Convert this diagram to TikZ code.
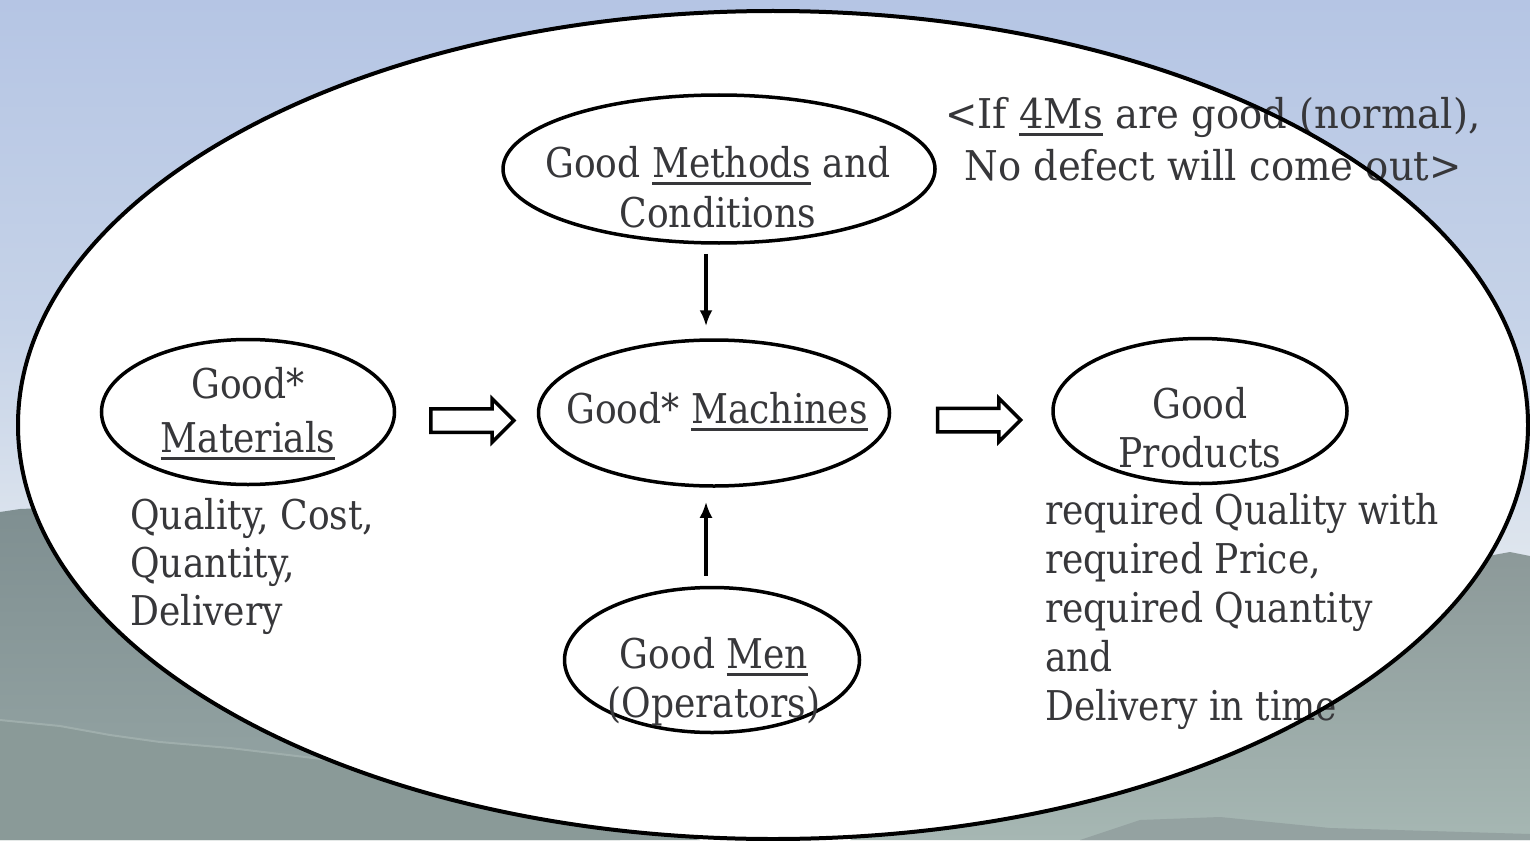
\documentclass[tikz,border=0pt]{standalone}
\usepackage{fontspec}
\setmainfont[FakeStretch=0.88]{DejaVu Serif}
\usetikzlibrary{shapes.geometric,shapes.arrows,arrows.meta,calc}

\definecolor{ink}{HTML}{37373A}
\definecolor{skyTop}{HTML}{B5C5E4}
\definecolor{skyMid}{HTML}{C6D3E8}
\definecolor{skyLow}{HTML}{E3E9EF}
\definecolor{hillBackTop}{HTML}{7F8F91}
\definecolor{hillBackLow}{HTML}{97A7A6}
\definecolor{hillFront}{HTML}{8A9A98}
\definecolor{hillRim}{HTML}{9FAEAC}
\definecolor{hillRightTop}{HTML}{8C9999}
\definecolor{hillRightLow}{HTML}{A6B7B3}

\newcommand\bodyfont{\fontsize{41}{49}\selectfont}
% thick underline used for the key words
\newcommand\undl[1]{\setbox0\hbox{#1}\rlap{\rule[-8pt]{\wd0}{2.6pt}}\box0{}}

\begin{document}
\begin{tikzpicture}[x=1pt,y=-1pt,
  txt/.style={text=ink, font=\bodyfont, inner sep=0pt},
  oval/.style={ellipse, draw=black, line width=3.5pt, inner sep=0pt},
  vconn/.style={-{Latex[length=16pt,width=13pt]}, line width=3.5pt},
  blockarr/.style={single arrow, draw=black, fill=white, line width=3.5pt,
    inner xsep=0pt, inner ysep=10pt, text height=0pt, text depth=0pt,
    single arrow head extend=10pt, single arrow tip angle=90,
    minimum height=83pt},
  frame/.style={draw=black, line width=4pt}]
\useasboundingbox (0,0) rectangle (1530,840);

% sky
\shade[top color=skyTop, bottom color=skyMid] (0,0) rectangle (1530,330);
\shade[top color=skyMid, bottom color=skyLow] (0,329) rectangle (1530,600);

% hills behind the frame
\shade[top color=hillBackTop, bottom color=hillBackLow]
  (0,512) -- (20,509) -- (45,508) -- (200,560) -- (520,700) -- (620,840) -- (0,840) -- cycle;
\fill[hillFront]
  (0,720) -- (60,726) -- (110,735) -- (160,742) -- (230,748) -- (330,760)
  -- (480,782) -- (700,840) -- (0,840) -- cycle;
\draw[hillRim, line width=2pt]
  (0,720) -- (60,726) -- (110,735) -- (160,742) -- (230,748) -- (330,760) -- (480,782);
\shade[top color=hillRightTop, bottom color=hillRightLow]
  (1530,556) -- (1510,552) -- (1488,556) -- (1300,640) -- (850,840) -- (1530,840) -- cycle;
\fill[hillRightTop!70!hillRightLow]
  (1080,840) -- (1140,820) -- (1220,817) -- (1330,828) -- (1530,834) -- (1530,840) -- cycle;

% white field of the frame
\fill[white] (773,425) ellipse [x radius=755pt, y radius=414pt];

% the five ovals
\node[oval, minimum width=432pt, minimum height=148pt] (meth) at (719,169) {};
\node[oval, minimum width=293pt, minimum height=145pt] (mat)  at (248,412) {};
\node[oval, minimum width=351pt, minimum height=146pt] (mac)  at (714,413) {};
\node[oval, minimum width=294pt, minimum height=145pt] (prod) at (1200,411) {};
\node[oval, minimum width=295pt, minimum height=145pt] (men)  at (712,660) {};

% oval texts (base anchor sits on the last line)
\node[txt, align=center, anchor=base] (methT) at (718,227)
  {Good \undl{Methods} and\\[1pt]Conditions};
\node[txt, align=center, anchor=base] (matT) at (248,452)
  {Good*\\[5pt]\undl{Materials}};
\node[txt, anchor=base] (macT) at (717,423) {Good* \undl{Machines}};
\node[txt, align=center, anchor=base] (prodT) at (1200,467)
  {Good\\Products};
\node[txt, align=center, anchor=base] (menT) at (714,717)
  {Good \undl{Men}\\(Operators)};

% side notes
\node[txt, align=left, anchor=base west] (matN) at (130,625)
  {Quality, Cost,\\[-1pt]Quantity,\\[-1pt]Delivery};
\node[txt, align=left, anchor=base west] (prodN) at (1045,720)
  {required Quality with\\required Price,\\required Quantity\\and\\Delivery in time};
\node[txt, align=center, anchor=base,
      font=\bodyfont\addfontfeatures{FakeStretch=0.94}] (rule) at (1213,180)
  {<If \undl{4Ms} are good (normal),\\[3pt]No defect will come out>};

% connectors
\draw[vconn] ($(meth.south)+(-13,9)$) -- ($(mac.north)+(-8,-12)$);
\draw[vconn] ($(men.north)+(-6,-10)$) -- ($(mac.south)+(-8,14)$);
\node[blockarr] (flowA) at ($($(mat.east)!0.5!(mac.west)$)+(0,8)$) {};
\node[blockarr] (flowB) at ($($(mac.east)!0.5!(prod.west)$)+(2,8)$) {};

% frame outline
\draw[frame] (773,425) ellipse [x radius=755pt, y radius=414pt];
\end{tikzpicture}
\end{document}
